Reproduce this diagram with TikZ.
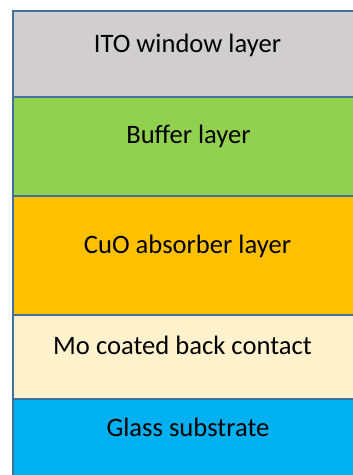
\documentclass[tikz,border=0pt]{standalone}
\usepackage{fontspec}
\setmainfont{Carlito}
\definecolor{itoc}{HTML}{D0CECE}
\definecolor{bufc}{HTML}{92D050}
\definecolor{cuoc}{HTML}{FFC000}
\definecolor{moc}{HTML}{FFF2CC}
\definecolor{glc}{HTML}{00B0F0}
\definecolor{edgec}{HTML}{41719C}
\begin{document}
\begin{tikzpicture}[x=1pt,y=-1pt,
  layer/.style={draw=edgec,line width=2pt},
  lbl/.style={anchor=base,inner sep=0pt,font=\fontsize{26.6}{30}\selectfont,text=black}]
\useasboundingbox (0,0) rectangle (353,475);
\clip (0,0) rectangle (353,475);
\fill[white] (0,0) rectangle (353,475);
\path[layer,fill=itoc] (13,10.5) rectangle (365,96.5);
\path[layer,fill=bufc] (13,96.5) rectangle (365,195.5);
\path[layer,fill=cuoc] (13,195.5) rectangle (365,314.5);
\path[layer,fill=moc] (13,314.5) rectangle (365,398.5);
\path[layer,fill=glc] (13,398.5) rectangle (365,490);
\node[lbl] (ito) at (187.5,52) {ITO window layer};
\node[lbl] (buf) at (188.5,143) {Buffer layer};
\node[lbl] (cuo) at (187.5,253) {CuO absorber layer};
\node[lbl] (mo) at (182.5,354) {Mo coated back contact};
\node[lbl] (gl) at (188,436) {Glass substrate};
\end{tikzpicture}
\end{document}
